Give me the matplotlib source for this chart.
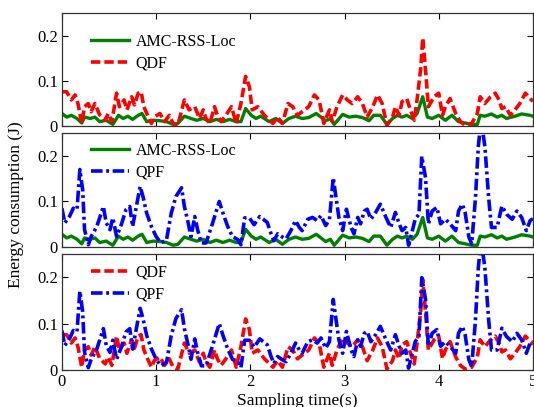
import matplotlib
matplotlib.use('Agg')
import matplotlib.pyplot as plt

# ============================================
# Data
# ============================================

amc_t = [0.00, 0.05, 0.10, 0.16, 0.21, 0.24, 0.30, 0.35, 0.40, 0.47, 0.54, 0.60,
         0.65, 0.70, 0.75, 0.81, 0.85, 0.90, 0.97, 1.04, 1.11, 1.18, 1.23, 1.30,
         1.37, 1.43, 1.50, 1.57, 1.64, 1.71, 1.78, 1.85, 1.90, 1.95, 2.01, 2.06,
         2.11, 2.20, 2.27, 2.34, 2.41, 2.48, 2.55, 2.62, 2.70, 2.75, 2.80, 2.85,
         2.89, 2.98, 3.05, 3.12, 3.19, 3.26, 3.31, 3.38, 3.45, 3.51, 3.56, 3.61,
         3.66, 3.72, 3.77, 3.83, 3.88, 3.93, 4.00, 4.07, 4.14, 4.21, 4.28, 4.35,
         4.41, 4.44, 4.49, 4.56, 4.62, 4.67, 4.72, 4.81, 4.88, 4.97, 5.00]
amc_e = [0.028, 0.020, 0.024, 0.017, 0.007, 0.020, 0.017, 0.020, 0.010, 0.013, 0.004, 0.024,
         0.017, 0.022, 0.015, 0.024, 0.028, 0.010, 0.013, 0.012, 0.010, 0.004, 0.006, 0.022,
         0.017, 0.013, 0.017, 0.010, 0.015, 0.010, 0.015, 0.010, 0.010, 0.039, 0.024, 0.017,
         0.022, 0.010, 0.017, 0.006, 0.017, 0.022, 0.017, 0.019, 0.028, 0.020, 0.012, 0.017,
         0.004, 0.026, 0.020, 0.022, 0.019, 0.012, 0.024, 0.024, 0.004, 0.017, 0.024, 0.020,
         0.024, 0.017, 0.028, 0.065, 0.020, 0.017, 0.024, 0.013, 0.024, 0.010, 0.007, 0.004,
         0.004, 0.024, 0.022, 0.027, 0.020, 0.024, 0.017, 0.022, 0.027, 0.024, 0.022]

qdf_t = [0.00, 0.05, 0.10, 0.14, 0.17, 0.21, 0.24, 0.28, 0.31, 0.35, 0.40, 0.46,
         0.49, 0.53, 0.58, 0.61, 0.66, 0.69, 0.74, 0.77, 0.81, 0.84, 0.87, 0.90,
         0.95, 0.98, 1.04, 1.09, 1.14, 1.18, 1.23, 1.30, 1.35, 1.41, 1.46, 1.50,
         1.53, 1.57, 1.62, 1.65, 1.69, 1.74, 1.80, 1.85, 1.90, 1.95, 1.99, 2.02,
         2.08, 2.15, 2.24, 2.29, 2.34, 2.40, 2.45, 2.50, 2.55, 2.62, 2.68, 2.73,
         2.78, 2.84, 2.87, 2.92, 2.98, 3.03, 3.08, 3.14, 3.19, 3.24, 3.30, 3.35,
         3.40, 3.45, 3.51, 3.54, 3.58, 3.61, 3.66, 3.70, 3.74, 3.77, 3.81, 3.83,
         3.86, 3.89, 3.95, 4.00, 4.04, 4.07, 4.12, 4.18, 4.23, 4.28, 4.35, 4.41,
         4.44, 4.49, 4.55, 4.60, 4.64, 4.67, 4.71, 4.76, 4.81, 4.86, 4.92, 4.97,
         5.00]
qdf_e = [0.076, 0.076, 0.058, 0.069, 0.050, 0.006, 0.043, 0.050, 0.032, 0.050, 0.025, 0.013,
         0.028, 0.010, 0.073, 0.043, 0.058, 0.036, 0.065, 0.047, 0.073, 0.076, 0.043, 0.028,
         0.006, 0.020, 0.028, 0.010, 0.024, 0.006, 0.002, 0.058, 0.036, 0.043, 0.017, 0.036,
         0.017, 0.006, 0.043, 0.024, 0.010, 0.024, 0.043, 0.006, 0.050, 0.110, 0.087, 0.036,
         0.043, 0.024, 0.006, 0.020, 0.006, 0.050, 0.043, 0.024, 0.032, 0.043, 0.069, 0.058,
         0.006, 0.036, 0.010, 0.043, 0.069, 0.058, 0.050, 0.065, 0.050, 0.020, 0.043, 0.069,
         0.050, 0.002, 0.020, 0.043, 0.024, 0.054, 0.061, 0.036, 0.013, 0.058, 0.130, 0.195,
         0.124, 0.043, 0.065, 0.073, 0.024, 0.043, 0.061, 0.028, 0.010, 0.002, 0.006, 0.028,
         0.065, 0.050, 0.065, 0.073, 0.058, 0.039, 0.043, 0.024, 0.036, 0.050, 0.073, 0.061,
         0.055]

qpf_t = [0.00, 0.03, 0.08, 0.12, 0.16, 0.19, 0.22, 0.24, 0.28, 0.31, 0.37, 0.44,
         0.47, 0.51, 0.54, 0.58, 0.63, 0.68, 0.72, 0.75, 0.79, 0.83, 0.86, 0.90,
         0.95, 1.00, 1.05, 1.11, 1.16, 1.21, 1.27, 1.30, 1.34, 1.37, 1.41, 1.44,
         1.48, 1.53, 1.60, 1.67, 1.71, 1.76, 1.81, 1.87, 1.90, 1.94, 1.99, 2.04,
         2.10, 2.18, 2.22, 2.25, 2.29, 2.34, 2.38, 2.43, 2.48, 2.52, 2.55, 2.61,
         2.66, 2.71, 2.75, 2.80, 2.84, 2.88, 2.91, 2.94, 2.98, 3.02, 3.07, 3.10,
         3.14, 3.17, 3.21, 3.24, 3.28, 3.33, 3.38, 3.44, 3.49, 3.54, 3.58, 3.61,
         3.65, 3.68, 3.72, 3.75, 3.79, 3.82, 3.86, 3.89, 3.93, 3.98, 4.02, 4.07,
         4.12, 4.18, 4.21, 4.25, 4.28, 4.32, 4.35, 4.39, 4.42, 4.45, 4.49, 4.53,
         4.56, 4.62, 4.67, 4.72, 4.78, 4.83, 4.88, 4.93, 4.97, 5.00]
qpf_e = [0.085, 0.053, 0.067, 0.085, 0.082, 0.170, 0.126, 0.038, 0.005, 0.023, 0.045, 0.089,
         0.053, 0.038, 0.064, 0.023, 0.049, 0.082, 0.089, 0.045, 0.089, 0.133, 0.111, 0.074,
         0.045, 0.023, 0.009, 0.016, 0.074, 0.111, 0.130, 0.089, 0.053, 0.023, 0.067, 0.038,
         0.009, 0.009, 0.053, 0.100, 0.074, 0.045, 0.023, 0.016, 0.005, 0.064, 0.064, 0.049,
         0.067, 0.054, 0.029, 0.014, 0.029, 0.022, 0.018, 0.036, 0.058, 0.043, 0.036, 0.061,
         0.065, 0.058, 0.069, 0.047, 0.061, 0.152, 0.108, 0.065, 0.036, 0.083, 0.043, 0.029,
         0.065, 0.051, 0.079, 0.083, 0.061, 0.076, 0.094, 0.065, 0.043, 0.076, 0.051, 0.036,
         0.043, 0.004, 0.036, 0.061, 0.072, 0.199, 0.152, 0.051, 0.079, 0.087, 0.051, 0.061,
         0.051, 0.036, 0.079, 0.094, 0.076, 0.022, 0.007, 0.108, 0.220, 0.280, 0.220, 0.108,
         0.043, 0.043, 0.090, 0.072, 0.061, 0.079, 0.065, 0.036, 0.058, 0.062]

x_ticks = [0, 1, 2, 3, 4, 5]
y_ticks = [0, 0.1, 0.2]
y_tick_labels = ['0', '0.1', '0.2']

# ============================================
# Styles
# ============================================

plt.rcParams['font.family'] = ['Liberation Serif', 'DejaVu Serif']
plt.rcParams['font.size'] = 11

STYLE = {
    'AMC-RSS-Loc': dict(color='#008000', linestyle='-', linewidth=2.4),
    'QDF': dict(color='#FF0000', linestyle=(0, (2.6, 1.1)), linewidth=2.6),
    'QPF': dict(color='#0000FF', linestyle=(0, (3.2, 1.0, 0.8, 1.0)), linewidth=2.6),
}
SERIES = {
    'AMC-RSS-Loc': (amc_t, amc_e),
    'QDF': (qdf_t, qdf_e),
    'QPF': (qpf_t, qpf_e),
}


def style_axis(ax, show_xlabels):
    ax.set_xlim(0, 5)
    ax.set_ylim(0, 0.25)
    ax.set_xticks(x_ticks)
    ax.set_yticks(y_ticks)
    ax.set_yticklabels(y_tick_labels)
    ax.tick_params(direction='in', top=True, right=True, length=4,
                   width=0.8, labelsize=12, pad=3)
    if not show_xlabels:
        ax.set_xticklabels([])
    for s in ax.spines.values():
        s.set_color('#333333')
        s.set_linewidth(0.9)


fig = plt.figure(figsize=(5.34, 4.07), dpi=100)

# [left, bottom, width, height] in figure fraction
panels = [
    ([0.116, 0.690, 0.882, 0.278], ['AMC-RSS-Loc', 'QDF'], 0.815),
    ([0.116, 0.393, 0.882, 0.280], ['AMC-RSS-Loc', 'QPF'], 0.915),
    ([0.116, 0.091, 0.882, 0.285], ['QDF', 'QPF'], 0.905),
]

for i, (rect, names, leg_y) in enumerate(panels):
    ax = fig.add_axes(rect)
    for name in names:
        t, e = SERIES[name]
        ax.plot(t, e, label=name, **STYLE[name])
    style_axis(ax, show_xlabels=(i == 2))
    ax.legend(loc='upper left', bbox_to_anchor=(0.062, leg_y), frameon=False,
              handlelength=2.4, handletextpad=0.4, labelspacing=0.35,
              borderpad=0, borderaxespad=0, fontsize=11.5)
    if i == 2:
        ax.set_xlabel('Sampling time(s)', fontsize=12.5, labelpad=2)

fig.text(0.030, 0.496, 'Energy consumption (J)', rotation=90,
         ha='center', va='center', fontsize=12.5)

plt.savefig('out.png', dpi=100)
plt.close()
